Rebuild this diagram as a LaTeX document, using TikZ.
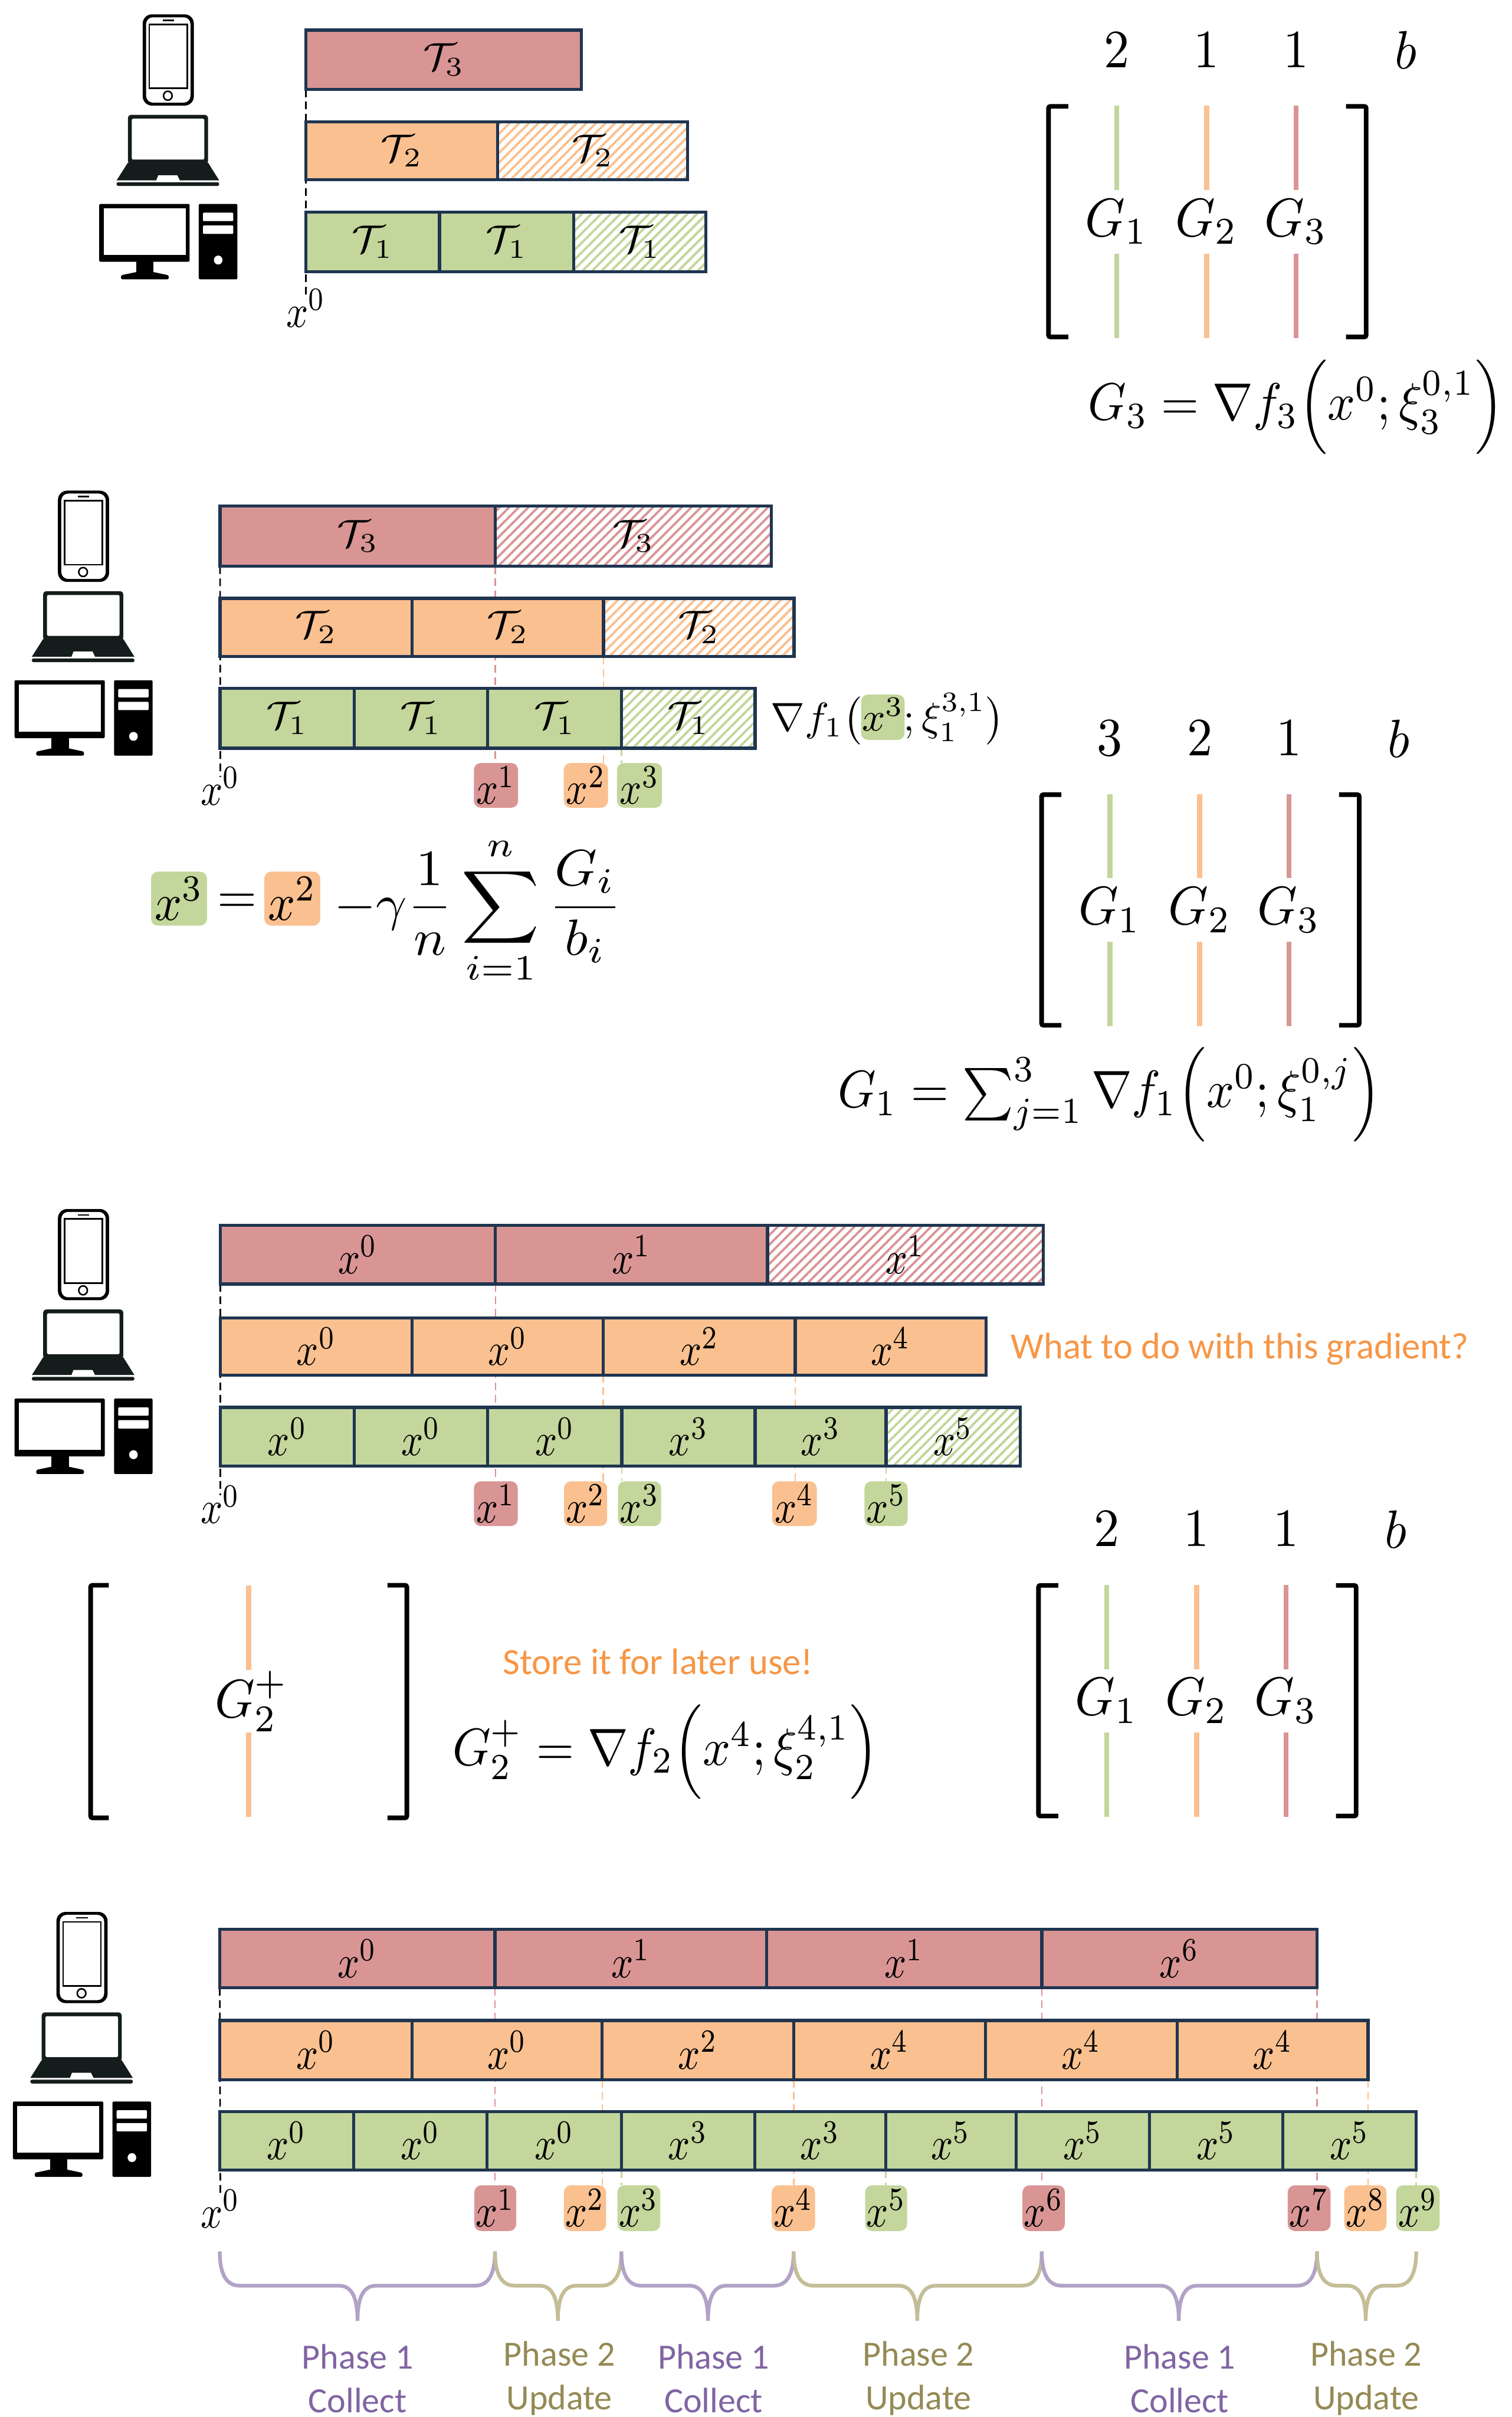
\documentclass[tikz,border=0pt]{standalone}
\usepackage[no-math]{fontspec}
\usepackage{graphicx}
\newfontfamily\calfont{Carlito}
\usetikzlibrary{patterns.meta,backgrounds,calc}
\definecolor{cR}{HTML}{D99594}
\definecolor{cO}{HTML}{FAC090}
\definecolor{cG}{HTML}{C3D69B}
\definecolor{cN}{HTML}{1F3550}
\definecolor{cP}{HTML}{B2A2C7}
\definecolor{cPt}{HTML}{8064A2}
\definecolor{cV}{HTML}{C4BD97}
\definecolor{cVt}{HTML}{948A54}
\definecolor{cOt}{HTML}{F79646}
\definecolor{cK}{HTML}{141C1C}
\tikzset{
  seg/.style={draw=cN,line width=2pt,inner sep=0pt,outer sep=0pt,text=black},
  rbar/.style={seg,fill=cR}, obar/.style={seg,fill=cO}, gbar/.style={seg,fill=cG},
  hatchbar/.style={seg,preaction={fill=white},pattern={Lines[angle=45,distance=4.4pt,line width=1.5pt]},pattern color=#1},
  rhatch/.style={hatchbar=cR}, ohatch/.style={hatchbar=cO}, ghatch/.style={hatchbar=cG},
  tagbox/.style={inner sep=0pt,outer sep=0pt,rounded corners=4.5pt,text=black},
  rtag/.style={tagbox,fill=cR}, otag/.style={tagbox,fill=cO}, gtag/.style={tagbox,fill=cG},
  lab/.style={inner sep=0pt,outer sep=0pt},
  kdash/.style={draw=black,line width=1pt,dash pattern=on 5pt off 3pt},
  rdash/.style={draw=cR,line width=1pt,dash pattern=on 5pt off 3pt},
  odash/.style={draw=cO,line width=1pt,dash pattern=on 5pt off 3pt},
  gdash/.style={draw=cG,line width=1pt,dash pattern=on 5pt off 3pt},
  bracket/.style={draw=black,line width=3pt,rounded corners=1.2pt},
  gline/.style={line width=3.2pt},
  gnode/.style={lab,minimum height=41.2pt},
  bracep/.style={draw=cP,line width=2.4pt},
  bracev/.style={draw=cV,line width=2.4pt},
  device/.pic={
    % phone
    \fill[black,rounded corners=6pt] (92.6,9.3) rectangle (125.8,68.5);
    \fill[white,rounded corners=4.5pt] (94.8,11.2) rectangle (123.6,66.6);
    \fill[black] (96.4,15.3) rectangle (122,57.8);
    \fill[white] (97.4,16.3) rectangle (121,56.8);
    \fill[black] (105.5,12.7) rectangle (112.9,13.6);
    \draw[black,line width=1pt] (108.9,62.1) ellipse (2.8 and 2.9);
    % laptop
    \fill[cK,rounded corners=2pt] (83,74.5) rectangle (135,106.5);
    \fill[white,rounded corners=1pt] (85.5,77) rectangle (132.6,103.5);
    \fill[cK] (83,105.5) -- (135,105.5) -- (142.2,117) -- (75.7,117) -- cycle;
    \fill[white] (102.7,113.7) -- (115,113.7) -- (116.8,117.3) -- (101.3,117.3) -- cycle;
    \fill[cK,rounded corners=1pt] (75.7,118.2) rectangle (142.2,120.6);
    % desktop
    \fill[black,rounded corners=0.8pt] (64.4,132.3) rectangle (123,169.8);
    \fill[white] (67.2,135.1) rectangle (120.5,165.5);
    \fill[black] (88.4,169) rectangle (99.6,177.7);
    \fill[black,rounded corners=1pt] (78.5,181.2) -- (78.5,178.6) -- (88.4,176.5) -- (99.6,176.5) -- (109.5,178.6) -- (109.5,181.2) -- cycle;
    \fill[black,rounded corners=0.8pt] (129,132.3) rectangle (154,181.2);
    \fill[white,rounded corners=0.5pt] (131.7,138) rectangle (151.4,143.4);
    \fill[white,rounded corners=0.5pt] (131.7,146.3) rectangle (151.4,151.7);
    \fill[white] (141.6,168.7) ellipse (2.8 and 2.9);
  }
}
\newcommand\seg[7]{%
  \pgfmathsetmacro\segX{(#3+#4)/2}\pgfmathsetmacro\segY{(#5+#6)/2}%
  \pgfmathsetmacro\segW{#4-#3}\pgfmathsetmacro\segH{#6-#5}%
  \node[#2,minimum width=\segW pt,minimum height=\segH pt] (#1) at (\segX,\segY) {#7};}
\newcommand\tauL[1]{\scalebox{2.7}[2.5]{$\mathcal{T}_{#1}$}}
\newcommand\xL[1]{\scalebox{2.5}[3.0]{$x^{#1}$}}
\newcommand\bigM[1]{\scalebox{3.3}[3.5]{$#1$}}
\newcommand\eqM[1]{\scalebox{3.15}[3.4]{$#1$}}
\newcommand\cdash[3]{\draw[#1] (#2) -- (#2 |- #3);}
% prefix, dx, dy, three numbers
\newcommand\gmat[6]{%
  \begin{scope}[shift={(#2,#3)}]
    \draw[bracket] (693.2,69) -- (680.4,69) -- (680.4,218.6) -- (693.2,218.6);
    \draw[bracket] (873.4,69) -- (886.5,69) -- (886.5,218.6) -- (873.4,218.6);
    \node[lab] (#1n1) at (724.7,32.5) {\bigM{#4}};
    \node[lab] (#1n2) at (783,32.5) {\bigM{#5}};
    \node[lab] (#1n3) at (841,32.5) {\bigM{#6}};
    \node[lab] (#1nb) at (912.3,32.5) {\bigM{b}};
    \node[gnode] (#1G1) at (724.7,143.9) {\bigM{G_1}};
    \node[gnode] (#1G2) at (783,143.9) {\bigM{G_2}};
    \node[gnode] (#1G3) at (841,143.9) {\bigM{G_3}};
    \coordinate (#1a1) at (724.7,68.6); \coordinate (#1b1) at (724.7,219.3);
    \coordinate (#1a2) at (783,68.6);   \coordinate (#1b2) at (783,219.3);
    \coordinate (#1a3) at (841,68.6);   \coordinate (#1b3) at (841,219.3);
    \draw[gline,cG] (#1a1) -- (#1G1.north); \draw[gline,cG] (#1G1.south) -- (#1b1);
    \draw[gline,cO] (#1a2) -- (#1G2.north); \draw[gline,cO] (#1G2.south) -- (#1b2);
    \draw[gline,cR] (#1a3) -- (#1G3.north); \draw[gline,cR] (#1G3.south) -- (#1b3);
  \end{scope}}
% x1, xm, x2, style
\newcommand\phbrace[4]{%
  \draw[#4] (#1,1460.6) .. controls (#1,1475) and (#1+4,1482.8) .. (#1+13,1482.8)
    -- (#2-12,1482.8) .. controls (#2-3,1482.8) and (#2,1492) .. (#2,1505.6)
    .. controls (#2,1492) and (#2+3,1482.8) .. (#2+12,1482.8)
    -- (#3-13,1482.8) .. controls (#3-4,1482.8) and (#3,1475) .. (#3,1460.6);}
\newcommand\phlab[4]{%
  \node[lab,text=#2,font=\calfont\fontsize{23}{27}\selectfont] (#1a) at (#3,1528.8) {Phase #4};}
\begin{document}
\begin{tikzpicture}[x=1pt,y=-1pt]
\useasboundingbox (0,0) rectangle (981,1568);
\begin{pgfonlayer}{background}
  \fill[white] (0,0) rectangle (981,1568);
\end{pgfonlayer}

% ---------- panel 1 ----------
\pic at (0,0) {device};
\seg{aR1}{rbar}{198.5}{377.3}{19.5}{58}{\tauL{3}}
\seg{aO1}{obar}{198.5}{322.8}{79}{116.7}{\tauL{2}}
\seg{aO2}{ohatch}{322.8}{446.3}{79}{116.7}{\tauL{2}}
\seg{aG1}{gbar}{198.5}{285.2}{137.7}{176.2}{\tauL{1}}
\seg{aG2}{gbar}{285.2}{372.2}{137.7}{176.2}{\tauL{1}}
\seg{aG3}{ghatch}{372.2}{458.1}{137.7}{176.2}{\tauL{1}}
\node[lab] (ax0) at (198.5,200) {\xL{0}};
\begin{pgfonlayer}{background}
  \draw[kdash] (aR1.south west) -- ($(ax0.center)+(0,-6)$);
\end{pgfonlayer}
\gmat{ma}{0}{0}{2}{1}{1}
\node[lab] (eqa) at (841,264) {\eqM{G_3=\nabla f_3\Big(x^0;\xi_3^{0,1}\Big)}};

% ---------- panel 2 ----------
\pic at (-55,309) {device};
\seg{bR1}{rbar}{142.8}{321.4}{328.4}{367.3}{\tauL{3}}
\seg{bR2}{rhatch}{321.4}{500.5}{328.4}{367.3}{\tauL{3}}
\seg{bO1}{obar}{142.8}{267.4}{388.2}{426}{\tauL{2}}
\seg{bO2}{obar}{267.4}{391.6}{388.2}{426}{\tauL{2}}
\seg{bO3}{ohatch}{391.6}{515.3}{388.2}{426}{\tauL{2}}
\seg{bG1}{gbar}{142.8}{229.8}{446.5}{485.4}{\tauL{1}}
\seg{bG2}{gbar}{229.8}{316.4}{446.5}{485.4}{\tauL{1}}
\seg{bG3}{gbar}{316.4}{403.4}{446.5}{485.4}{\tauL{1}}
\seg{bG4}{ghatch}{403.4}{490}{446.5}{485.4}{\tauL{1}}
\node[lab] (bx0) at (143,510) {\xL{0}};
\seg{btag1}{rtag}{307.5}{336.2}{495}{524}{\xL{1}}
\seg{btag2}{otag}{365.8}{394.5}{495}{524}{\xL{2}}
\seg{btag3}{gtag}{400.4}{429.6}{495}{524}{\xL{3}}
\begin{pgfonlayer}{background}
  \draw[kdash] (bR1.south west) -- ($(bx0.center)+(0,-6)$);
  \cdash{rdash}{bR1.south east}{btag1.north}
  \cdash{odash}{bO2.south east}{btag2.north}
  \cdash{gdash}{bG3.south east}{btag3.north}
\end{pgfonlayer}
\seg{bhl}{gtag}{558.8}{587}{450.6}{480}{}
\node[lab] (bgrad) at (576,466.6) {\scalebox{2.65}[2.6]{$\nabla f_1\bigl(x^3;\xi_1^{3,1}\bigr)$}};
\seg{bex3}{gtag}{98}{134.3}{565.5}{600.5}{\scalebox{3.1}[3.4]{$x^3$}}
\node[lab] (beq) at (154,586) {\scalebox{3.3}[3.4]{$=$}};
\seg{bex2}{otag}{171.5}{207.8}{565.5}{600.5}{\scalebox{3.1}[3.4]{$x^2$}}
\node[lab,anchor=west] (brest) at (217,590.7) {\scalebox{3.5}[3.3]{$\displaystyle-\gamma\frac{1}{n}\sum_{i=1}^{n}\frac{G_i}{b_i}$}};
\gmat{mb}{-4.5}{446.5}{3}{2}{1}
\node[lab] (eqb) at (720,710) {\eqM{G_1=\sum_{j=1}^{3}\nabla f_1\Big(x^0;\xi_1^{0,j}\Big)}};

% ---------- panel 3 ----------
\pic at (-55,775) {device};
\seg{cR1}{rbar}{143}{321.5}{795}{833}{\xL{0}}
\seg{cR2}{rbar}{321.5}{498}{795}{833}{\xL{1}}
\seg{cR3}{rhatch}{498}{677}{795}{833}{\xL{1}}
\seg{cO1}{obar}{143}{267.5}{855}{892}{\xL{0}}
\seg{cO2}{obar}{267.5}{391.5}{855}{892}{\xL{0}}
\seg{cO3}{obar}{391.5}{516}{855}{892}{\xL{2}}
\seg{cO4}{obar}{516}{640}{855}{892}{\xL{4}}
\seg{cG1}{gbar}{143}{230}{913}{951}{\xL{0}}
\seg{cG2}{gbar}{230}{316.5}{913}{951}{\xL{0}}
\seg{cG3}{gbar}{316.5}{403.5}{913}{951}{\xL{0}}
\seg{cG4}{gbar}{403.5}{490}{913}{951}{\xL{3}}
\seg{cG5}{gbar}{490}{575}{913}{951}{\xL{3}}
\seg{cG6}{ghatch}{575}{662}{913}{951}{\xL{5}}
\node[lab] (cx0) at (143,976) {\xL{0}};
\seg{ctag1}{rtag}{307.5}{336}{961}{990}{\xL{1}}
\seg{ctag2}{otag}{366}{394}{961}{990}{\xL{2}}
\seg{ctag3}{gtag}{401}{429}{961}{990}{\xL{3}}
\seg{ctag4}{otag}{501}{530}{961}{990}{\xL{4}}
\seg{ctag5}{gtag}{561}{589}{961}{990}{\xL{5}}
\begin{pgfonlayer}{background}
  \draw[kdash] (cR1.south west) -- ($(cx0.center)+(0,-6)$);
  \cdash{rdash}{cR1.south east}{ctag1.north}
  \cdash{odash}{cO2.south east}{ctag2.north}
  \cdash{gdash}{cG3.south east}{ctag3.north}
  \cdash{odash}{cO3.south east}{ctag4.north}
  \cdash{gdash}{cG5.south east}{ctag5.north}
\end{pgfonlayer}
\node[lab,anchor=west,text=cOt,font=\calfont\fontsize{24}{28}\selectfont] (cq) at (656,875) {What to do with this gradient?};
\draw[bracket] (70.6,1028.4) -- (58.8,1028.4) -- (58.8,1179.3) -- (70.6,1179.3);
\draw[bracket] (251.5,1028.4) -- (264,1028.4) -- (264,1179.3) -- (251.5,1179.3);
\coordinate (cpa) at (161.4,1028.5);
\coordinate (cpb) at (161.4,1178.8);
\node[gnode,minimum height=40.6pt] (cGp) at (163.3,1103.7) {\bigM{G_2^+}};
\draw[gline,cO] (cpa) -- (cpa |- cGp.north);
\draw[gline,cO] (cpb |- cGp.south) -- (cpb);
\node[lab,text=cOt,font=\calfont\fontsize{24}{28}\selectfont] (cst) at (427,1078) {Store it for later use!};
\node[lab] (eqc) at (432,1136.7) {\eqM{G_2^+=\nabla f_2\Big(x^4;\xi_2^{4,1}\Big)}};
\gmat{mc}{-6.5}{959.5}{2}{1}{1}

% ---------- panel 4 ----------
\pic at (-56,1231) {device};
\seg{dR1}{rbar}{142.6}{321.2}{1251.7}{1289.6}{\xL{0}}
\seg{dR2}{rbar}{321.2}{497.6}{1251.7}{1289.6}{\xL{1}}
\seg{dR3}{rbar}{497.6}{676}{1251.7}{1289.6}{\xL{1}}
\seg{dR4}{rbar}{676}{854.6}{1251.7}{1289.6}{\xL{6}}
\seg{dO1}{obar}{142.6}{267.3}{1310.7}{1349.2}{\xL{0}}
\seg{dO2}{obar}{267.3}{390.8}{1310.7}{1349.2}{\xL{0}}
\seg{dO3}{obar}{390.8}{515}{1310.7}{1349.2}{\xL{2}}
\seg{dO4}{obar}{515}{639.4}{1310.7}{1349.2}{\xL{4}}
\seg{dO5}{obar}{639.4}{763.9}{1310.7}{1349.2}{\xL{4}}
\seg{dO6}{obar}{763.9}{887.7}{1310.7}{1349.2}{\xL{4}}
\seg{dG1}{gbar}{142.6}{229.4}{1369.8}{1407.9}{\xL{0}}
\seg{dG2}{gbar}{229.4}{316.1}{1369.8}{1407.9}{\xL{0}}
\seg{dG3}{gbar}{316.1}{403.2}{1369.8}{1407.9}{\xL{0}}
\seg{dG4}{gbar}{403.2}{489.7}{1369.8}{1407.9}{\xL{3}}
\seg{dG5}{gbar}{489.7}{574.7}{1369.8}{1407.9}{\xL{3}}
\seg{dG6}{gbar}{574.7}{659.3}{1369.8}{1407.9}{\xL{5}}
\seg{dG7}{gbar}{659.3}{745.9}{1369.8}{1407.9}{\xL{5}}
\seg{dG8}{gbar}{745.9}{832.5}{1369.8}{1407.9}{\xL{5}}
\seg{dG9}{gbar}{832.5}{919}{1369.8}{1407.9}{\xL{5}}
\node[lab] (dx0) at (143,1433) {\xL{0}};
\seg{dtag1}{rtag}{307.8}{335}{1417.7}{1447.3}{\xL{1}}
\seg{dtag2}{otag}{365.9}{393.3}{1417.7}{1447.3}{\xL{2}}
\seg{dtag3}{gtag}{400.7}{428.4}{1417.7}{1447.3}{\xL{3}}
\seg{dtag4}{otag}{500.8}{528.9}{1417.7}{1447.3}{\xL{4}}
\seg{dtag5}{gtag}{561.4}{588.6}{1417.7}{1447.3}{\xL{5}}
\seg{dtag6}{rtag}{663.5}{691}{1417.7}{1447.3}{\xL{6}}
\seg{dtag7}{rtag}{835.6}{863.4}{1417.7}{1447.3}{\xL{7}}
\seg{dtag8}{otag}{872.3}{899.7}{1417.7}{1447.3}{\xL{8}}
\seg{dtag9}{gtag}{906}{934.2}{1417.7}{1447.3}{\xL{9}}
\begin{pgfonlayer}{background}
  \draw[kdash] (dR1.south west) -- ($(dx0.center)+(0,-8)$);
  \cdash{rdash}{dR1.south east}{dtag1.north}
  \cdash{odash}{dO2.south east}{dtag2.north}
  \cdash{gdash}{dG3.south east}{dtag3.north}
  \cdash{odash}{dO3.south east}{dtag4.north}
  \cdash{gdash}{dG5.south east}{dtag5.north}
  \cdash{rdash}{dR3.south east}{dtag6.north}
  \cdash{rdash}{dR4.south east}{dtag7.north}
  \cdash{odash}{dO6.south east}{dtag8.north}
  \cdash{gdash}{dG9.south east}{dtag9.north}
\end{pgfonlayer}
\phbrace{142.6}{232}{321.2}{bracep}
\phbrace{321.2}{362}{403.2}{bracev}
\phbrace{403.2}{459.4}{515}{bracep}
\phbrace{515}{595.2}{676}{bracev}
\phbrace{676}{764.9}{854.6}{bracep}
\phbrace{854.6}{886.2}{919}{bracev}
\tikzset{phtext/.style={lab,align=center,font=\calfont\fontsize{23}{28.2}\selectfont}}
\node[phtext,text=cPt] (dp1) at (232,1543) {Phase 1\\Collect};
\node[phtext,text=cVt] (dp2) at (363,1543) {Phase 2\\Update};
\node[phtext,text=cPt] (dp3) at (463,1543) {Phase 1\\Collect};
\node[phtext,text=cVt] (dp4) at (596,1543) {Phase 2\\Update};
\node[phtext,text=cPt] (dp5) at (765.5,1543) {Phase 1\\Collect};
\node[phtext,text=cVt] (dp6) at (886.5,1543) {Phase 2\\Update};
\end{tikzpicture}
\end{document}
